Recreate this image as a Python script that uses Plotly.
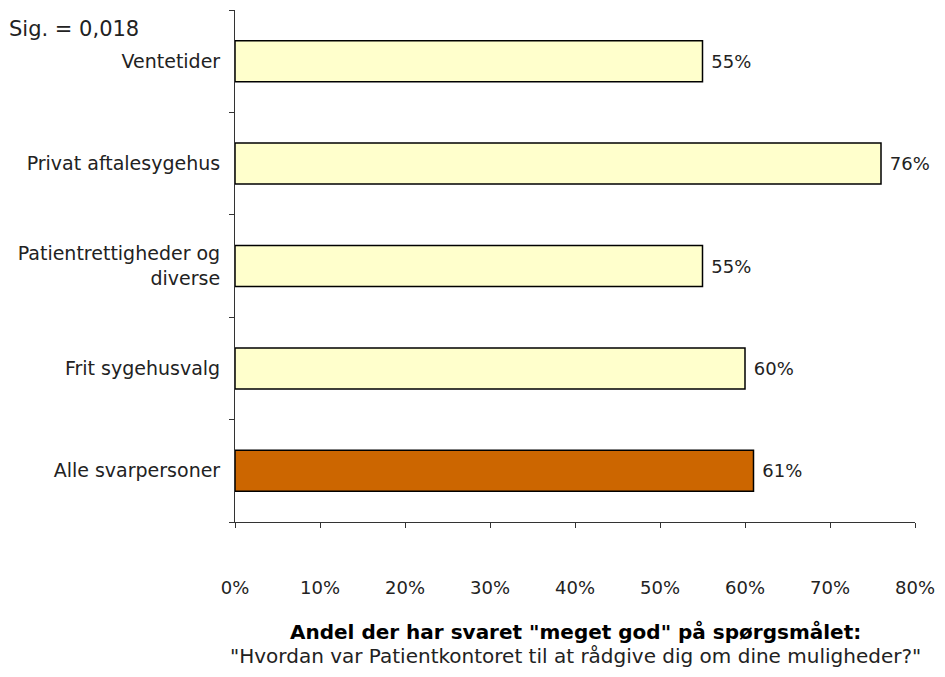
import plotly.graph_objects as go

categories = ["Alle svarpersoner", "Frit sygehusvalg", "Patientrettigheder og<br>diverse",
              "Privat aftalesygehus", "Ventetider"]
values = [61, 60, 55, 76, 55]
colors = ["#CC6600", "#FFFFCC", "#FFFFCC", "#FFFFCC", "#FFFFCC"]
x_ticks = [0, 10, 20, 30, 40, 50, 60, 70, 80]
x_ticklabels = [f"{v}%" for v in x_ticks]

FONT = "DejaVu Sans"
OFF = 8  # page body margin offset

ML, MT = 235 - OFF, 10 - OFF
PW, PH = 680, 512
MR = 945 - ML - PW
MB = 677 - MT - PH

fig = go.Figure(go.Bar(
    y=categories, x=values, orientation="h",
    marker=dict(color=colors, line=dict(color="black", width=1.5)),
    width=0.4,
    text=[f" {v}%" for v in values], textposition="outside",
    textfont=dict(family=FONT, size=18, color="#222"),
    cliponaxis=False,
))

def px_to_paper(xp, yp):
    xf, yf = xp - OFF, yp - OFF
    return (xf - ML) / PW, (677 - MB - yf) / PH

xs, ys = px_to_paper(74, 29)
xb, yb = px_to_paper(575, 632)
xr, yr = px_to_paper(575, 656)

fig.update_layout(
    width=945, height=677,
    margin=dict(l=ML, r=MR, t=MT, b=MB),
    plot_bgcolor="white", paper_bgcolor="white",
    showlegend=False,
    font=dict(family=FONT, size=18, color="#222"),
    xaxis=dict(range=[0, 80], tickvals=x_ticks, ticktext=x_ticklabels,
               showgrid=False, zeroline=False, showline=True, linecolor="#333",
               ticks="outside", ticklen=5, tickcolor="#333",
               tickfont=dict(size=18), ticklabelstandoff=44),
    yaxis=dict(showgrid=False, showline=True, linecolor="#333",
               ticks="outside", ticklen=5, tickcolor="#333", tickson="boundaries",
               tickfont=dict(size=19), ticklabelstandoff=10),
    annotations=[
        dict(text="Sig. = 0,018", x=xs, y=ys, xref="paper", yref="paper",
             xanchor="center", yanchor="middle", showarrow=False, font=dict(size=21)),
        dict(text="<b>Andel der har svaret \"meget god\" på spørgsmålet:</b>", xref="paper", yref="paper",
             x=xb, y=yb, xanchor="center", yanchor="middle", showarrow=False,
             font=dict(size=20, color="black")),
        dict(text="\"Hvordan var Patientkontoret til at rådgive dig om dine muligheder?\"", xref="paper",
             yref="paper", x=xr, y=yr, xanchor="center", yanchor="middle", showarrow=False,
             font=dict(size=20)),
    ],
)

fig.write_html("out.html")
